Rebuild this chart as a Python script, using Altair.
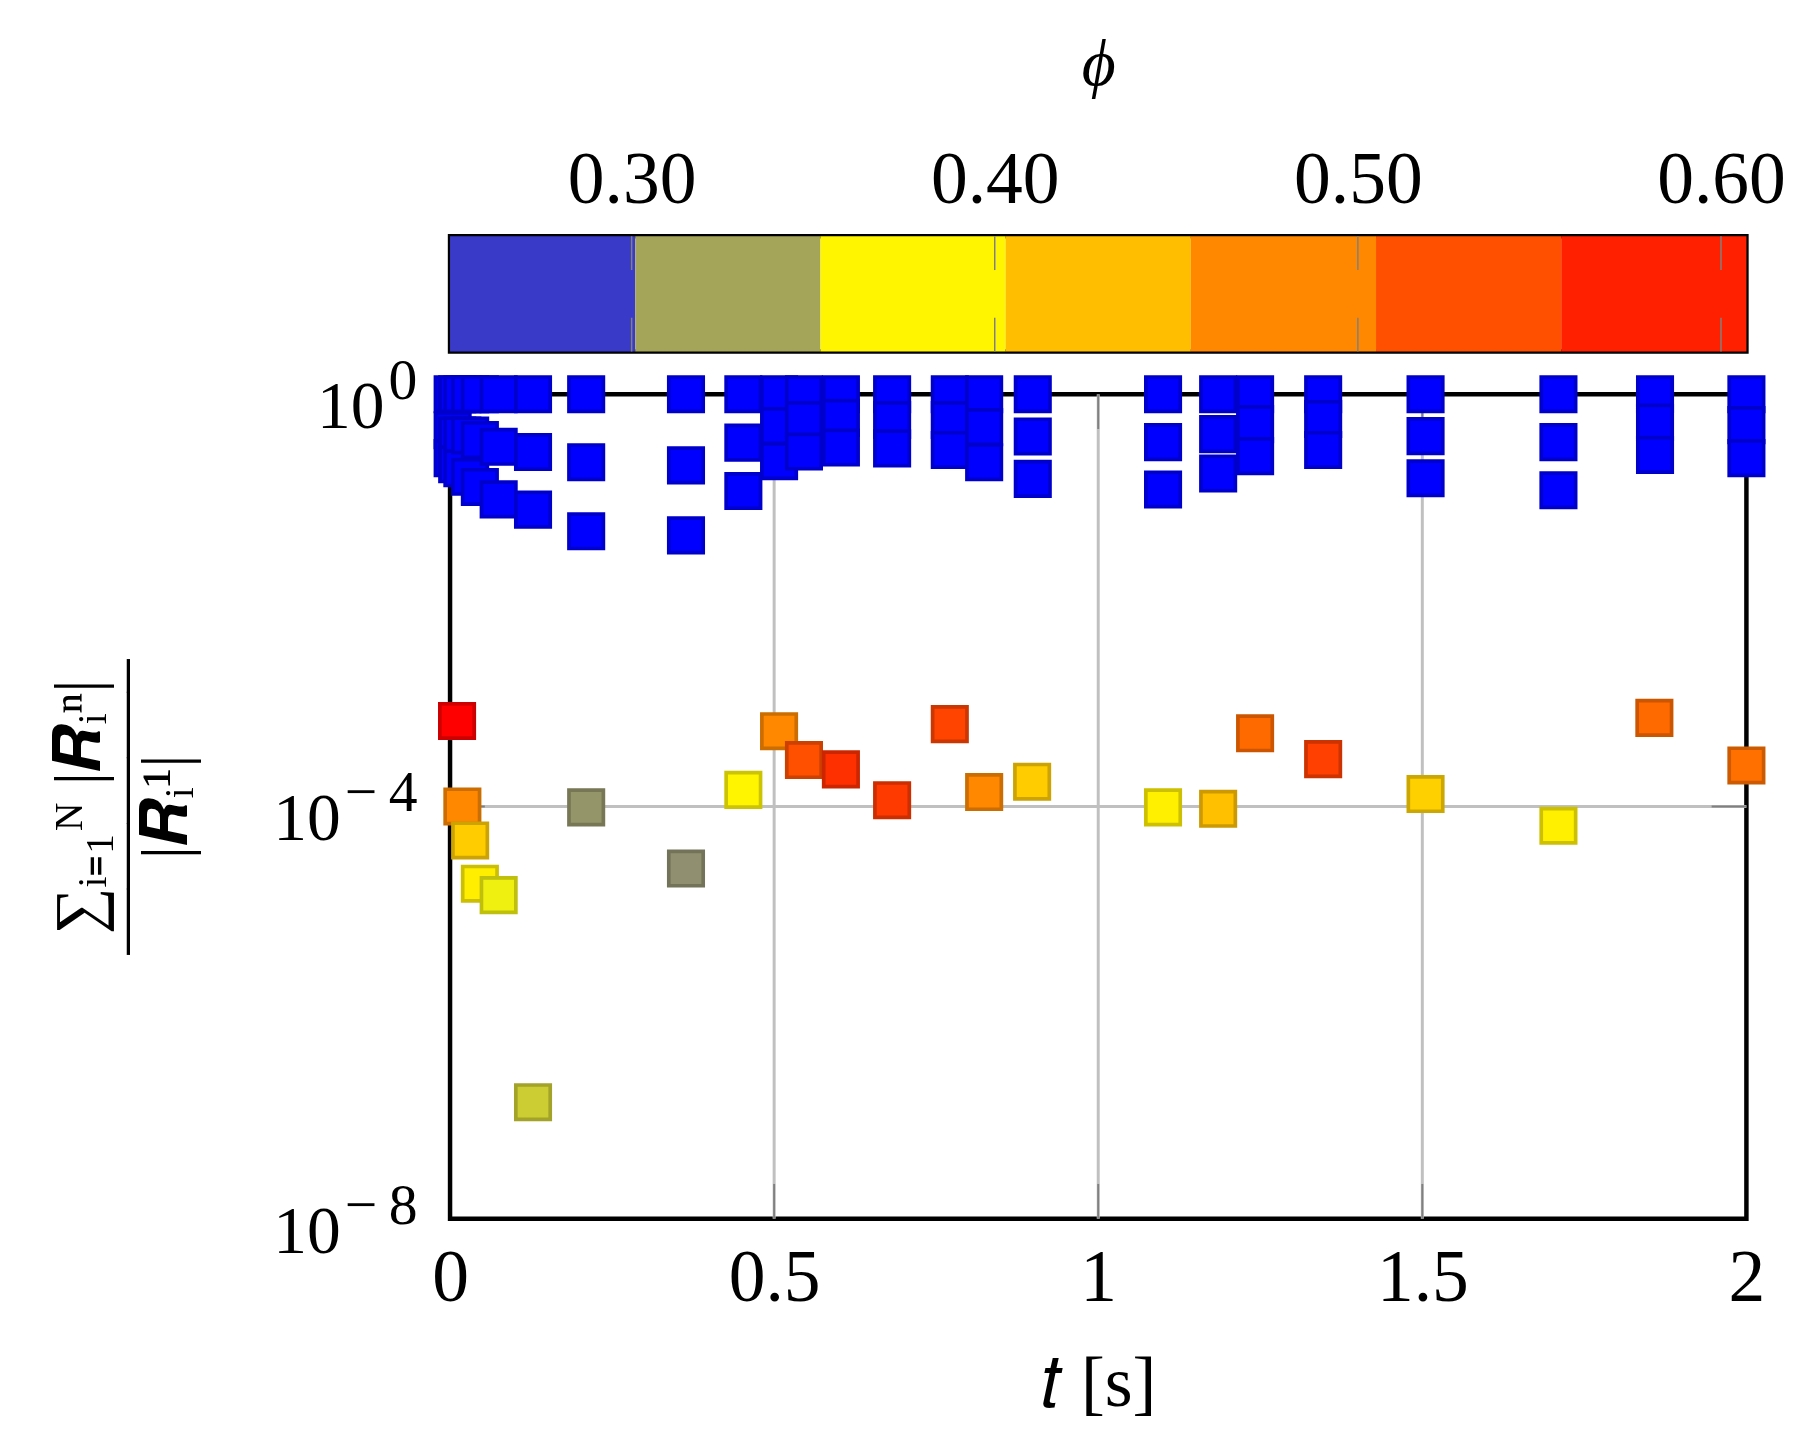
import altair as alt
import pandas as pd

# ---------------- data ----------------
# Blue markers (Newton iterations, phi below the colour range), column by column
blue_t = [0.004, 0.004, 0.004,
          0.011, 0.011, 0.011,
          0.019, 0.019, 0.019,
          0.031, 0.031, 0.031,
          0.046, 0.046, 0.046,
          0.075, 0.075, 0.075,
          0.128, 0.128, 0.128,
          0.210, 0.210, 0.210,
          0.364, 0.364, 0.364,
          0.4525, 0.4525, 0.4525,
          0.5076, 0.5076, 0.5076,
          0.546, 0.546, 0.546,
          0.603, 0.603, 0.603,
          0.682, 0.682, 0.682,
          0.771, 0.771, 0.771,
          0.824, 0.824, 0.824,
          0.899, 0.899, 0.899,
          1.100, 1.100, 1.100,
          1.185, 1.185, 1.185,
          1.242, 1.242, 1.242,
          1.347, 1.347, 1.347,
          1.505, 1.505, 1.505,
          1.710, 1.710, 1.710,
          1.859, 1.859, 1.859,
          2.000, 2.000, 2.000]
blue_r = [1.0, 0.447, 0.240,
          1.0, 0.398, 0.209,
          1.0, 0.398, 0.191,
          1.0, 0.398, 0.158,
          1.0, 0.359, 0.126,
          1.0, 0.309, 0.0955,
          1.0, 0.275, 0.0759,
          1.0, 0.219, 0.0468,
          1.0, 0.204, 0.0427,
          1.0, 0.339, 0.115,
          1.0, 0.490, 0.224,
          1.0, 0.562, 0.278,
          1.0, 0.589, 0.304,
          1.0, 0.562, 0.298,
          1.0, 0.562, 0.288,
          1.0, 0.479, 0.219,
          1.0, 0.389, 0.151,
          1.0, 0.343, 0.119,
          1.0, 0.410, 0.170,
          1.0, 0.513, 0.251,
          1.0, 0.575, 0.288,
          1.0, 0.392, 0.153,
          1.0, 0.343, 0.117,
          1.0, 0.531, 0.258,
          1.0, 0.501, 0.240]
blue_phi_value = 0.25

# Converged markers, coloured by phi
conv_t = [0.0108, 0.019, 0.031, 0.046, 0.075, 0.128, 0.210, 0.364, 0.4525, 0.5076,
          0.546, 0.603, 0.682, 0.771, 0.824, 0.898, 1.100, 1.185, 1.242, 1.347,
          1.505, 1.710, 1.858, 2.000]
conv_r = [6.76e-4, 1.00e-4, 4.68e-5, 1.78e-5, 1.38e-5, 1.35e-7, 9.8e-5, 2.5e-5, 1.45e-4, 5.37e-4,
          2.82e-4, 2.29e-4, 1.15e-4, 6.3e-4, 1.38e-4, 1.74e-4, 9.8e-5, 9.5e-5, 5.13e-4, 2.88e-4,
          1.32e-4, 6.5e-5, 7.24e-4, 2.5e-4]
conv_phi = [0.607, 0.4795, 0.4186, 0.393, 0.370, 0.348, 0.3135, 0.310, 0.3876, 0.4795,
            0.5305, 0.561, 0.5515, 0.542, 0.4795, 0.4186, 0.3914, 0.428, 0.5068, 0.5458,
            0.4156, 0.3914, 0.5068, 0.5014]

# colour map (phi -> colour)
cmap_phi = [0.25, 0.30, 0.38, 0.4285, 0.4795, 0.5305, 0.607]
cmap_fill = ["#0000ff", "#808080", "#ffff00", "#ffbf00", "#ff8800", "#ff5000", "#ff0000"]
cmap_edge = ["#0000cc", "#666666", "#cccc00", "#cc9900", "#cc6d00", "#cc4000", "#cc0000"]

# colour bar bins
cbar_lo = [0.250, 0.301, 0.352, 0.403, 0.454, 0.505, 0.556]
cbar_hi = [0.301, 0.352, 0.403, 0.454, 0.505, 0.556, 0.607]
cbar_col = ["#3a3ac8", "#a5a55a", "#fff500", "#ffbf00", "#ff8800", "#ff5000", "#ff2000"]
cbar_ticks = [0.30, 0.40, 0.50, 0.60]

x_ticks = [0, 0.5, 1, 1.5, 2]
x_inner = [0.5, 1, 1.5]
y_ticks = [1e-8, 1e-4, 1]
y_exp = ["−\u20098", "−\u20094", "0"]
y_inner = [1e-4]

# ---------------- chart ----------------
FONT = "Liberation Serif"
W, H = 1305, 830
CB_H = 116
LBL = 74      # tick label size
BASE = 68     # "10" size on the log axis
EXP = 58      # exponent size

pts = pd.DataFrame({
    "t": blue_t + conv_t,
    "r": blue_r + conv_r,
    "phi": [blue_phi_value] * len(blue_t) + conv_phi,
})

xscale = alt.Scale(domain=[0, 2], nice=False, zero=False)
yscale = alt.Scale(type="log", domain=[1e-8, 1], nice=False)

points = alt.Chart(pts).mark_point(
    shape="square", filled=True, opacity=1, size=1200, strokeWidth=3.7
).encode(
    x=alt.X("t:Q", scale=xscale,
            axis=alt.Axis(values=x_ticks, grid=False, domain=False, ticks=False,
                          labelFontSize=LBL, labelFont=FONT, labelPadding=24, labelFlush=False,
                          labelExpr="format(datum.value, '~g')",
                          title="𝑡 [s]", titleFont=FONT, titleFontSize=72,
                          titleFontWeight="normal", titlePadding=34)),
    y=alt.Y("r:Q", scale=yscale,
            axis=alt.Axis(values=y_ticks, grid=False, domain=False, ticks=False, labels=False,
                          title=["∑ᵢ₌₁ᴺ |𝑹ᵢⁿ|", "――――–", "|𝑹ᵢ¹|"],
                          titleFont=FONT, titleFontSize=66, titleFontWeight="normal",
                          titleLineHeight=44, titlePadding=251)),
    fill=alt.Fill("phi:Q", scale=alt.Scale(domain=cmap_phi, range=cmap_fill, interpolate="rgb", clamp=True), legend=None),
    stroke=alt.Stroke("phi:Q", scale=alt.Scale(domain=cmap_phi, range=cmap_edge, interpolate="rgb", clamp=True), legend=None),
)

xt_df = pd.DataFrame({"t": x_inner})
yt_df = pd.DataFrame({"r": y_inner})
TL = 35
grid_x = alt.Chart(xt_df).mark_rule(color="#c0c0c0", strokeWidth=3).encode(
    x=alt.X("t:Q", scale=xscale), y=alt.value(0), y2=alt.value(H))
grid_y = alt.Chart(yt_df).mark_rule(color="#c0c0c0", strokeWidth=3).encode(
    y=alt.Y("r:Q", scale=yscale), x=alt.value(0), x2=alt.value(W))
xt_bottom = alt.Chart(xt_df).mark_rule(color="#808080", strokeWidth=2).encode(
    x=alt.X("t:Q", scale=xscale), y=alt.value(H - TL), y2=alt.value(H))
xt_top = alt.Chart(xt_df).mark_rule(color="#808080", strokeWidth=2).encode(
    x=alt.X("t:Q", scale=xscale), y=alt.value(0), y2=alt.value(TL))
yt_left = alt.Chart(yt_df).mark_rule(color="#808080", strokeWidth=2).encode(
    y=alt.Y("r:Q", scale=yscale), x=alt.value(0), x2=alt.value(TL))
yt_right = alt.Chart(yt_df).mark_rule(color="#808080", strokeWidth=2).encode(
    y=alt.Y("r:Q", scale=yscale), x=alt.value(W - TL), x2=alt.value(W))

# y tick labels: "10" followed by a raised exponent
ylab_df = pd.DataFrame({"r": y_ticks, "exp": y_exp})
BASE_END_WIDE = 110     # distance of the end of "10" from the axis (negative exponents)
BASE_END_NARROW = 66    # same for the "0" exponent
SEP = 4


def base_layer(test, end):
    return alt.Chart(ylab_df).transform_filter(test).mark_text(
        text="10", align="right", baseline="middle", dx=-end, dy=14,
        font=FONT, fontSize=BASE, color="black").encode(
        y=alt.Y("r:Q", scale=yscale), x=alt.value(0))


def exp_layer(test, end):
    return alt.Chart(ylab_df).transform_filter(test).mark_text(
        align="left", baseline="middle", dx=-end + SEP, dy=-12,
        font=FONT, fontSize=EXP, color="black").encode(
        y=alt.Y("r:Q", scale=yscale), x=alt.value(0), text="exp:N")


lab_layers = [
    base_layer("datum.exp != '0'", BASE_END_WIDE),
    base_layer("datum.exp == '0'", BASE_END_NARROW),
    exp_layer("datum.exp != '0'", BASE_END_WIDE),
    exp_layer("datum.exp == '0'", BASE_END_NARROW),
]

main = alt.layer(grid_x, grid_y, xt_bottom, xt_top, yt_left, yt_right,
                 *lab_layers, points).properties(width=W, height=H)

cb_df = pd.DataFrame({"lo": cbar_lo, "hi": cbar_hi, "col": cbar_col})
cbscale = alt.Scale(domain=[0.25, 0.607], nice=False, zero=False)
cb_rect = alt.Chart(cb_df).mark_rect().encode(
    x=alt.X("lo:Q", scale=cbscale,
            axis=alt.Axis(orient="top", values=cbar_ticks, format=".2f", grid=False,
                          domain=False, ticks=False, labelFontSize=LBL, labelFont=FONT,
                          labelPadding=18, labelFlush=False, title="ϕ", titleFont=FONT,
                          titleFontSize=66, titleFontStyle="italic", titleFontWeight="normal",
                          titlePadding=46)),
    x2="hi:Q",
    y=alt.value(0), y2=alt.value(CB_H),
    fill=alt.Fill("col:N", scale=None, legend=None),
)
cbt_df = pd.DataFrame({"v": cbar_ticks})
cb_t1 = alt.Chart(cbt_df).mark_rule(color="#808080", strokeWidth=1.5).encode(
    x=alt.X("v:Q", scale=cbscale), y=alt.value(0), y2=alt.value(34))
cb_t2 = alt.Chart(cbt_df).mark_rule(color="#808080", strokeWidth=1.5).encode(
    x=alt.X("v:Q", scale=cbscale), y=alt.value(CB_H - 34), y2=alt.value(CB_H))
cbar = alt.layer(cb_rect, cb_t1, cb_t2).properties(width=W, height=CB_H)

chart = alt.vconcat(cbar, main, spacing=43, bounds="flush").properties(
    padding={"left": 36, "top": 16, "right": 20, "bottom": 20}
).configure_view(
    stroke="black", strokeWidth=4.5
).configure_axis(
    labelColor="black", titleColor="black"
)

chart.save("out.html", embed_options={"renderer": "svg", "actions": False})
